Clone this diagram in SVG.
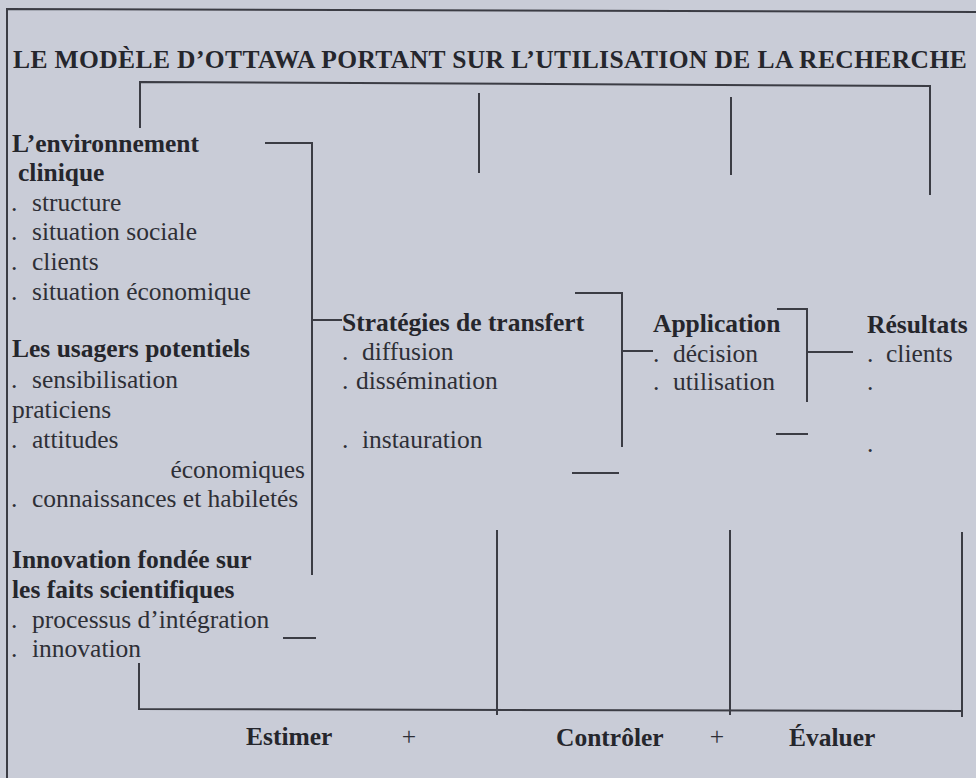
<svg xmlns="http://www.w3.org/2000/svg" width="976" height="778" viewBox="0 0 976 778">
  <style>
    text { font-family: "Liberation Serif", "Times New Roman", serif; font-size: 25.5px; fill: #2e2f36; }
    .b { font-weight: bold; fill: #25262c; }
    .title { font-weight: bold; font-size: 25.5px; letter-spacing: 0.4px; fill: #25262c; }
    .ln { fill: none; stroke: #3b3c44; stroke-width: 2; }
  </style>
  <rect width="976" height="778" fill="#c9ccd7"/>

  <!-- frame -->
  <g id="frame">
    <path class="ln" d="M7,778 V9 L976,12"/>
    <text class="title" x="13" y="68">LE MODÈLE D’OTTAWA PORTANT SUR L’UTILISATION DE LA RECHERCHE</text>
  </g>

  <!-- connectors -->
  <g id="connectors">
    <!-- feedback bracket along the top -->
    <path class="ln" d="M140,128 V82 L930,86 V195"/>
    <path class="ln" d="M479,93 V173"/>
    <path class="ln" d="M731,97 V175"/>
    <!-- left column joining into transfer strategies -->
    <path class="ln" d="M265,143 H312 V575"/>
    <path class="ln" d="M312,320 H342"/>
    <path class="ln" d="M283,638 H316"/>
    <!-- strategies into application -->
    <path class="ln" d="M575,293 H622 V447"/>
    <path class="ln" d="M622,351 H653"/>
    <path class="ln" d="M572,473 H619"/>
    <!-- application into results -->
    <path class="ln" d="M777,309 H807 V402"/>
    <path class="ln" d="M807,352 H853"/>
    <path class="ln" d="M776,434 H808"/>
    <!-- evaluation bracket along the bottom -->
    <path class="ln" d="M139,663 V709 L962,711"/>
    <path class="ln" d="M497,530 V715"/>
    <path class="ln" d="M730,530 V715"/>
    <path class="ln" d="M962,532 V717"/>
  </g>

  <g id="environnement">
    <text class="b" x="12" y="152">L’environnement</text>
    <text class="b" x="18" y="181">clinique</text>
    <text y="211"><tspan x="11">.</tspan><tspan x="32">structure</tspan></text>
    <text y="240"><tspan x="11">.</tspan><tspan x="32">situation sociale</tspan></text>
    <text y="270"><tspan x="11">.</tspan><tspan x="32">clients</tspan></text>
    <text y="300"><tspan x="11">.</tspan><tspan x="32">situation économique</tspan></text>
  </g>

  <g id="usagers">
    <text class="b" x="12" y="357">Les usagers potentiels</text>
    <text y="388"><tspan x="11">.</tspan><tspan x="32">sensibilisation</tspan></text>
    <text x="12" y="418">praticiens</text>
    <text y="448"><tspan x="11">.</tspan><tspan x="32">attitudes</tspan></text>
    <text x="305" y="478" text-anchor="end">économiques</text>
    <text y="507"><tspan x="11">.</tspan><tspan x="32">connaissances et habiletés</tspan></text>
  </g>

  <g id="innovation">
    <text class="b" x="12" y="568">Innovation fondée sur</text>
    <text class="b" x="12" y="598">les faits scientifiques</text>
    <text y="628"><tspan x="11">.</tspan><tspan x="32">processus d’intégration</tspan></text>
    <text y="657"><tspan x="11">.</tspan><tspan x="32">innovation</tspan></text>
  </g>

  <g id="strategies">
    <text class="b" x="342" y="331">Stratégies de transfert</text>
    <text y="360"><tspan x="342">.</tspan><tspan x="362">diffusion</tspan></text>
    <text y="389"><tspan x="342">.</tspan><tspan x="356">dissémination</tspan></text>
    <text y="448"><tspan x="342">.</tspan><tspan x="362">instauration</tspan></text>
  </g>

  <g id="application">
    <text class="b" x="653" y="332">Application</text>
    <text y="362"><tspan x="653">.</tspan><tspan x="673">décision</tspan></text>
    <text y="390"><tspan x="653">.</tspan><tspan x="673">utilisation</tspan></text>
  </g>

  <g id="resultats">
    <text class="b" x="867" y="333">Résultats</text>
    <text y="362"><tspan x="867">.</tspan><tspan x="886">clients</tspan></text>
    <text x="867" y="390">.</text>
    <text x="867" y="452">.</text>
  </g>

  <g id="evaluation">
    <text class="b" x="246" y="745">Estimer</text>
    <text x="409" y="745" text-anchor="middle">+</text>
    <text class="b" x="556" y="746">Contrôler</text>
    <text x="717" y="745" text-anchor="middle">+</text>
    <text class="b" x="789" y="746">Évaluer</text>
  </g>
</svg>
